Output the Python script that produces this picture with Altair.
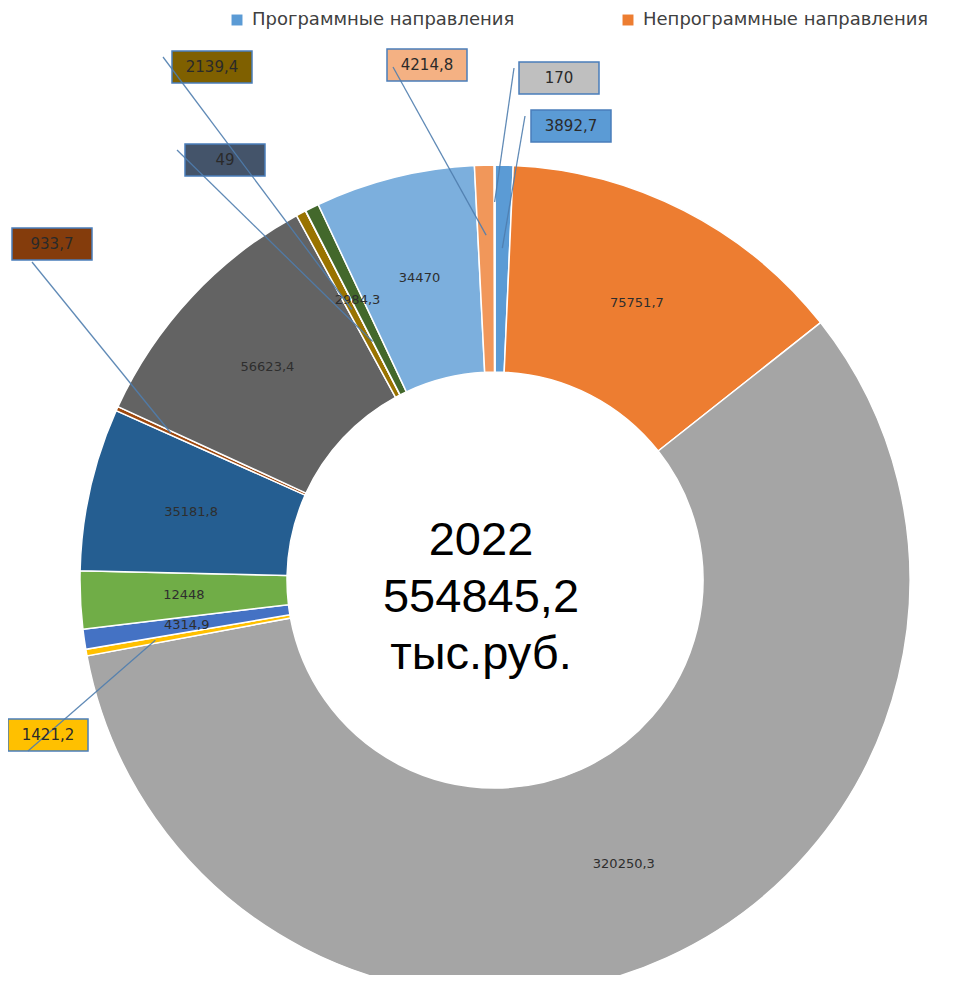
import altair as alt
import pandas as pd

# ---- data (Excel Office palette, clockwise from 12 o'clock)
labels = ["3892,7", "75751,7", "320250,3", "1421,2", "4314,9", "12448", "35181,8",
          "933,7", "56623,4", "2139,4", "49", "2984,3", "34470", "4214,8", "170"]
values = [3892.7, 75751.7, 320250.3, 1421.2, 4314.9, 12448, 35181.8,
          933.7, 56623.4, 2139.4, 49, 2984.3, 34470, 4214.8, 170]
colors = ["#5B9BD5", "#ED7D31", "#A5A5A5", "#FFC000", "#4472C4", "#70AD47", "#255E91",
          "#9E480E", "#636363", "#997300", "#264478", "#43682B", "#7CAFDD", "#F1975A", "#B7B7B7"]
inside = [False, True, True, False, True, True, True,
          False, True, False, False, True, True, False, False]

legend_names = ["Программные направления", "Непрограммные направления"]
legend_colors = ["#5B9BD5", "#ED7D31"]

center_lines = ["2022", "554845,2", "тыс.руб."]

# ---- callout boxes (annotation placement in view pixels, and their fills)
callout_labels = ["3892,7", "170", "4214,8", "2139,4", "49", "933,7", "1421,2"]
callout_fill = ["#5B9BD5", "#BFBFBF", "#F4B183", "#7F6000", "#44546A", "#843C0C", "#FFC000"]
callout_box_x = [563, 551, 419, 204, 217, 44, 40]
callout_box_y = [118, 70, 57, 59, 152, 236, 727]
callout_attach_dx = [-46, -45, -34, -49, -48, -20, -20]
callout_attach_dy = [-10, -10, 2, -10, -10, 18, 16]
callout_end_r = [332, 378, 345, 306, 268, 356, 345]

CX, CY = 487, 572
R_IN, R_OUT = 208, 415
W, H = 952, 967

df = pd.DataFrame({
    "idx": list(range(len(values))),
    "label": labels,
    "value": values,
    "inside": inside,
})
callouts = pd.DataFrame({
    "label": callout_labels,
    "fill": callout_fill,
    "bx": callout_box_x,
    "by": callout_box_y,
    "adx": callout_attach_dx,
    "ady": callout_attach_dy,
    "rend": callout_end_r,
})
legend_df = pd.DataFrame({"name": legend_names})
center_df = pd.DataFrame({"t": ["\n".join(center_lines)]})

slice_color = alt.Color("label:N", scale=alt.Scale(domain=labels, range=colors), legend=None)

base = alt.Chart(df)

arcs = base.mark_arc(innerRadius=R_IN, outerRadius=R_OUT, stroke="white", strokeWidth=1.5).encode(
    theta=alt.Theta("value:Q", stack=True),
    color=slice_color,
    order=alt.Order("idx:Q"),
    x=alt.value(CX),
    y=alt.value(CY),
)

inner_text = base.transform_calculate(
    itext="datum.inside ? datum.label : ''"
).mark_text(radius=(R_IN + R_OUT) / 2, font="DejaVu Sans", fontSize=13, color="#2E2E2E").encode(
    theta=alt.Theta("value:Q", stack=True),
    order=alt.Order("idx:Q"),
    text="itext:N",
    x=alt.value(CX),
    y=alt.value(CY),
)

call_base = base.transform_joinaggregate(
    total="sum(value)"
).transform_window(
    cum="sum(value)", sort=[alt.SortField("idx", order="ascending")], frame=[None, 0]
).transform_calculate(
    mid="(datum.cum - datum.value / 2) / datum.total * 2 * PI"
).transform_lookup(
    lookup="label",
    from_=alt.LookupData(data=callouts, key="label",
                         fields=["fill", "bx", "by", "adx", "ady", "rend"]),
).transform_filter(
    "isValid(datum.bx)"
).transform_calculate(
    sx=f"{CX} + datum.rend * sin(datum.mid)",
    sy=f"{CY} - datum.rend * cos(datum.mid)",
    ax="datum.bx + datum.adx",
    ay="datum.by + datum.ady",
    x1="datum.bx - 40",
    x2="datum.bx + 40",
    y1="datum.by - 16",
    y2="datum.by + 16",
)

boxes = call_base.mark_rect(stroke="#4A7EBB", strokeWidth=1.5).encode(
    x=alt.X("x1:Q", scale=None),
    x2="x2:Q",
    y=alt.Y("y1:Q", scale=None),
    y2="y2:Q",
    fill=alt.Fill("fill:N", scale=None),
)

leaders = call_base.mark_rule(color="#4F7DAE", strokeWidth=1.3, opacity=0.9).encode(
    x=alt.X("sx:Q", scale=None),
    y=alt.Y("sy:Q", scale=None),
    x2="ax:Q",
    y2="ay:Q",
)

box_text = call_base.mark_text(font="DejaVu Sans", fontSize=15, color="#2A2A2A").encode(
    x=alt.X("bx:Q", scale=None),
    y=alt.Y("by:Q", scale=None),
    text="label:N",
)

center_text = alt.Chart(center_df).mark_text(
    font="Liberation Sans", fontSize=47, lineHeight=57, lineBreak="\n",
    align="center", baseline="middle", color="#000000",
).encode(text="t:N", x=alt.value(473), y=alt.value(533))

legend_layer = alt.Chart(legend_df).mark_square(size=120, filled=True, opacity=1).encode(
    color=alt.Color(
        "name:N",
        scale=alt.Scale(domain=legend_names, range=legend_colors),
        legend=alt.Legend(
            title=None, orient="none", legendX=220, legendY=3, direction="horizontal",
            symbolType="square", symbolSize=120, symbolStrokeWidth=0,
            labelFont="DejaVu Sans", labelFontSize=18, labelColor="#404040",
            labelLimit=500, columnPadding=104, labelOffset=6,
        ),
    ),
    x=alt.value(-200),
    y=alt.value(-200),
)

chart = alt.layer(
    arcs, inner_text, boxes, leaders, box_text, center_text, legend_layer
).resolve_scale(color="independent").properties(
    width=W, height=H, autosize=alt.AutoSizeParams(type="none"), padding=0,
    background="white",
).configure_view(stroke=None)

chart.save("out.html", embed_options={"renderer": "svg", "actions": False})
